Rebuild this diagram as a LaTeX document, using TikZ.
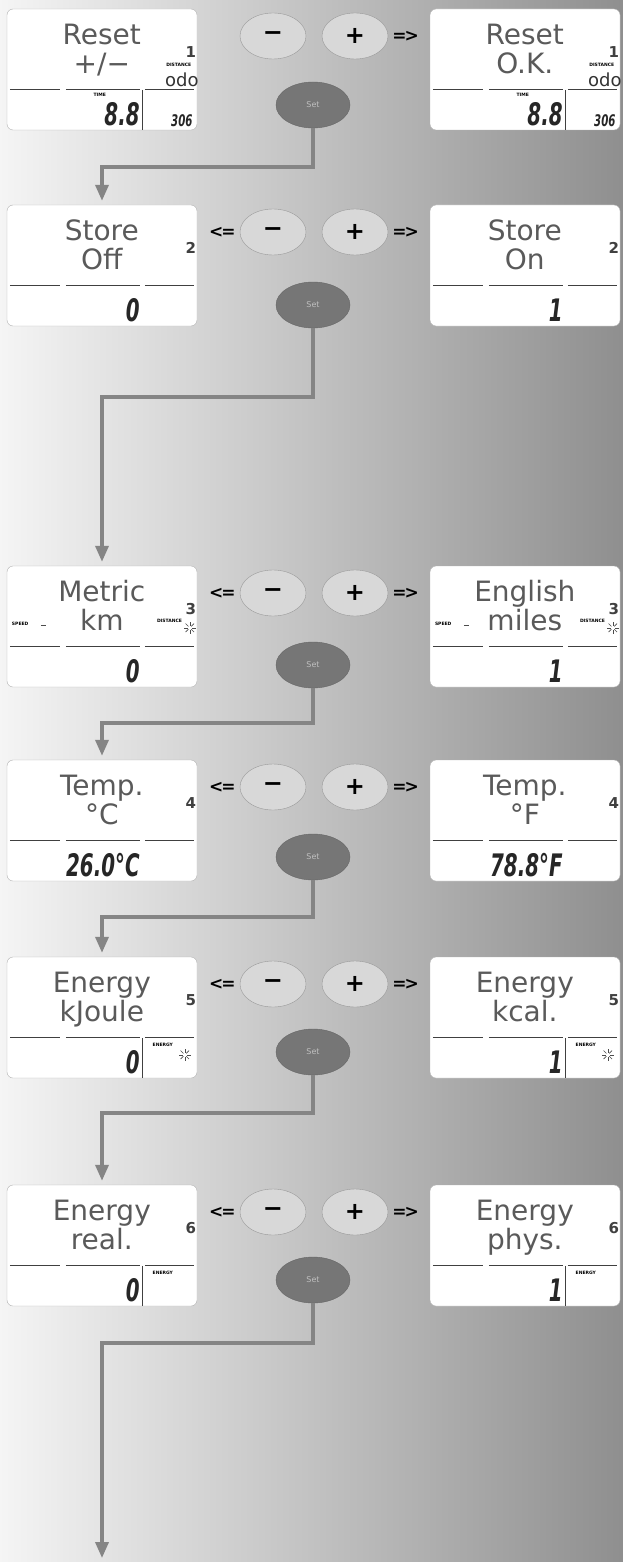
\documentclass[tikz,border=0pt]{standalone}
\usepackage{fontspec}
\setmainfont{DejaVu Sans}
\newfontfamily\segfont[FakeStretch=0.64]{DejaVu Sans}
\usetikzlibrary{arrows.meta, positioning, shapes.geometric, calc}

\definecolor{lcdgray}{HTML}{5A5A5A}
\definecolor{flowgray}{HTML}{858585}
\definecolor{setgray}{HTML}{767676}
\definecolor{keygray}{HTML}{D8D8D8}

\begin{document}
\begin{tikzpicture}[x=1pt, y=-1pt, >=Stealth,
    lcdbox/.style={draw=black!30, fill=white, rounded corners=6pt,
        minimum width=190pt, minimum height=121pt, inner sep=0pt},
    lcdtext/.style={anchor=base, inner sep=0pt, text=lcdgray,
        font=\fontsize{28}{28}\selectfont},
    lcdidx/.style={anchor=base, inner sep=0pt, text=black!75,
        font=\bfseries\fontsize{15}{15}\selectfont},
    segnum/.style={anchor=base east, inner sep=0pt, text=black!85,
        font=\segfont\bfseries\itshape\fontsize{31}{31}\selectfont},
    tinylbl/.style={inner sep=0pt, font=\bfseries\fontsize{4.5}{5}\selectfont},
    lcdline/.style={draw=black!75, line width=1.2pt},
    pmkey/.style={ellipse, draw=black!40, fill=keygray, minimum width=66pt,
        minimum height=46pt, inner sep=0pt, font=\bfseries\fontsize{24}{24}\selectfont},
    setkey/.style={ellipse, draw=black!60, fill=setgray, minimum width=74pt,
        minimum height=46pt, inner sep=0pt, text=black!25,
        font=\fontsize{8}{8}\selectfont},
    dirtext/.style={inner sep=0pt, font=\bfseries\fontsize{17}{17}\selectfont},
    flowline/.style={draw=flowgray, line width=3.5pt,
        -{Triangle[width=13pt,length=16pt]}, shorten >=4pt}
]
    % Background
    \useasboundingbox (0,0) rectangle (623,1562);
    \shade[left color=black!4, middle color=black!19, right color=black!44] (0,0) rectangle (623,1562);

    % One display: name, centre, two text lines, menu number, value
    \def\lcdpanel#1#2#3#4#5#6{%
        \node[lcdbox] (#1) at (#2) {};
        \node[lcdtext] (#1-a) at ($(#1.north west)+(95,36)$) {#3};
        \node[lcdtext] (#1-b) at ($(#1.north west)+(95,65)$) {#4};
        \node[lcdidx] (#1-i) at ($(#1.north west)+(184,49)$) {#5};
        \node[segnum] (#1-v) at ($(#1.north west)+(133,117)$) {#6};
        \draw[lcdline] ($(#1.north west)+(3,81)$) -- ++(50,0)
            ($(#1.north west)+(59,81)$) -- ++(74,0)
            ($(#1.north west)+(138,81)$) -- ++(49,0);
    }
    \def\lcdsplit#1{\draw[lcdline, line width=1pt] ($(#1.north west)+(136,81)$) -- ($(#1.south west)+(136,0)$);}
    \def\lcdflash#1{\foreach \a in {0,45,...,315} \draw[black!70, line width=0.6pt] ($(#1)+(\a:2)$) -- ($(#1)+(\a:6)$);}
    \def\pmkeys#1#2{%
        \node[pmkey] (m#1) at (273,#2) {−};
        \node[pmkey] (p#1) at (355,#2) {+};
        \node[dirtext, right=4pt of p#1] (r#1) {=\kern-2pt>};
    }

    % Row 1: reset
    \lcdpanel{lA}{102,69.5}{Reset}{+/−}{1}{8.8}
    \lcdpanel{rA}{525,69.5}{Reset}{O.K.}{1}{8.8}
    \foreach \b in {lA,rA} {
        \node[tinylbl] (\b-dist) at ($(\b.north west)+(172,56)$) {DISTANCE};
        \node[anchor=base, inner sep=0pt, text=black!80, font=\fontsize{18}{18}\selectfont] (\b-odo) at ($(\b.north west)+(175,78)$) {odo};
        \node[tinylbl] (\b-time) at ($(\b.north west)+(93,86)$) {TIME};
        \node[segnum, font=\segfont\bfseries\itshape\fontsize{16}{16}\selectfont] (\b-km) at ($(\b.north west)+(186,118)$) {306};
        \lcdsplit{\b}
    }
    \pmkeys{1}{36}

    % Row 2: store
    \lcdpanel{lB}{102,265.5}{Store}{Off}{2}{0}
    \lcdpanel{rB}{525,265.5}{Store}{On}{2}{1}
    \pmkeys{2}{232}
    \node[dirtext, left=4pt of m2] (l2) {<\kern-2pt=};

    % Row 3: units
    \lcdpanel{lC}{102,626.5}{Metric}{km}{3}{0}
    \lcdpanel{rC}{525,626.5}{English}{miles}{3}{1}
    \foreach \b in {lC,rC} {
        \node[tinylbl, anchor=west] (\b-speed) at ($(\b.north west)+(5,58)$) {SPEED};
        \draw[black!70, line width=1pt] ($(\b.north west)+(34,60)$) -- ++(5,0);
        \node[tinylbl, anchor=west] (\b-dist) at ($(\b.north west)+(150,55)$) {DISTANCE};
        \coordinate (\b-fl) at ($(\b.north west)+(183,62)$);
        \lcdflash{\b-fl}
    }
    \pmkeys{3}{593}
    \node[dirtext, left=4pt of m3] (l3) {<\kern-2pt=};

    % Row 4: temperature
    \lcdpanel{lD}{102,820.5}{Temp.}{°C}{4}{26.0°C}
    \lcdpanel{rD}{525,820.5}{Temp.}{°F}{4}{78.8°F}
    \pmkeys{4}{787}
    \node[dirtext, left=4pt of m4] (l4) {<\kern-2pt=};

    % Row 5: energy unit
    \lcdpanel{lE}{102,1017.5}{Energy}{kJoule}{5}{0}
    \lcdpanel{rE}{525,1017.5}{Energy}{kcal.}{5}{1}
    \foreach \b in {lE,rE} {
        \node[tinylbl] (\b-en) at ($(\b.north west)+(156,88)$) {ENERGY};
        \lcdsplit{\b}
        \coordinate (\b-fl) at ($(\b.north west)+(178,98)$);
        \lcdflash{\b-fl}
    }
    \pmkeys{5}{984}
    \node[dirtext, left=4pt of m5] (l5) {<\kern-2pt=};

    % Row 6: energy mode
    \lcdpanel{lF}{102,1245.5}{Energy}{real.}{6}{0}
    \lcdpanel{rF}{525,1245.5}{Energy}{phys.}{6}{1}
    \foreach \b in {lF,rF} {
        \node[tinylbl] (\b-en) at ($(\b.north west)+(156,88)$) {ENERGY};
        \lcdsplit{\b}
    }
    \pmkeys{6}{1212}
    \node[dirtext, left=4pt of m6] (l6) {<\kern-2pt=};

    % Set keys
    \node[setkey] (s1) at (313,105) {Set};
    \node[setkey] (s2) at (313,305) {Set};
    \node[setkey] (s3) at (313,665) {Set};
    \node[setkey] (s4) at (313,857) {Set};
    \node[setkey] (s5) at (313,1052) {Set};
    \node[setkey] (s6) at (313,1280) {Set};

    % Flow from one setting to the next
    \coordinate (c1) at (102,167);
    \coordinate (c2) at (102,397);
    \coordinate (c3) at (102,723);
    \coordinate (c4) at (102,917);
    \coordinate (c5) at (102,1113);
    \coordinate (c6) at (102,1343);
    \coordinate (end) at (102,1562);
    \draw[flowline] (s1.south) |- (c1) -- (lB.north);
    \draw[flowline] (s2.south) |- (c2) -- (lC.north);
    \draw[flowline] (s3.south) |- (c3) -- (lD.north);
    \draw[flowline] (s4.south) |- (c4) -- (lE.north);
    \draw[flowline] (s5.south) |- (c5) -- (lF.north);
    \draw[flowline] (s6.south) |- (c6) -- (end);

\end{tikzpicture}
\end{document}
